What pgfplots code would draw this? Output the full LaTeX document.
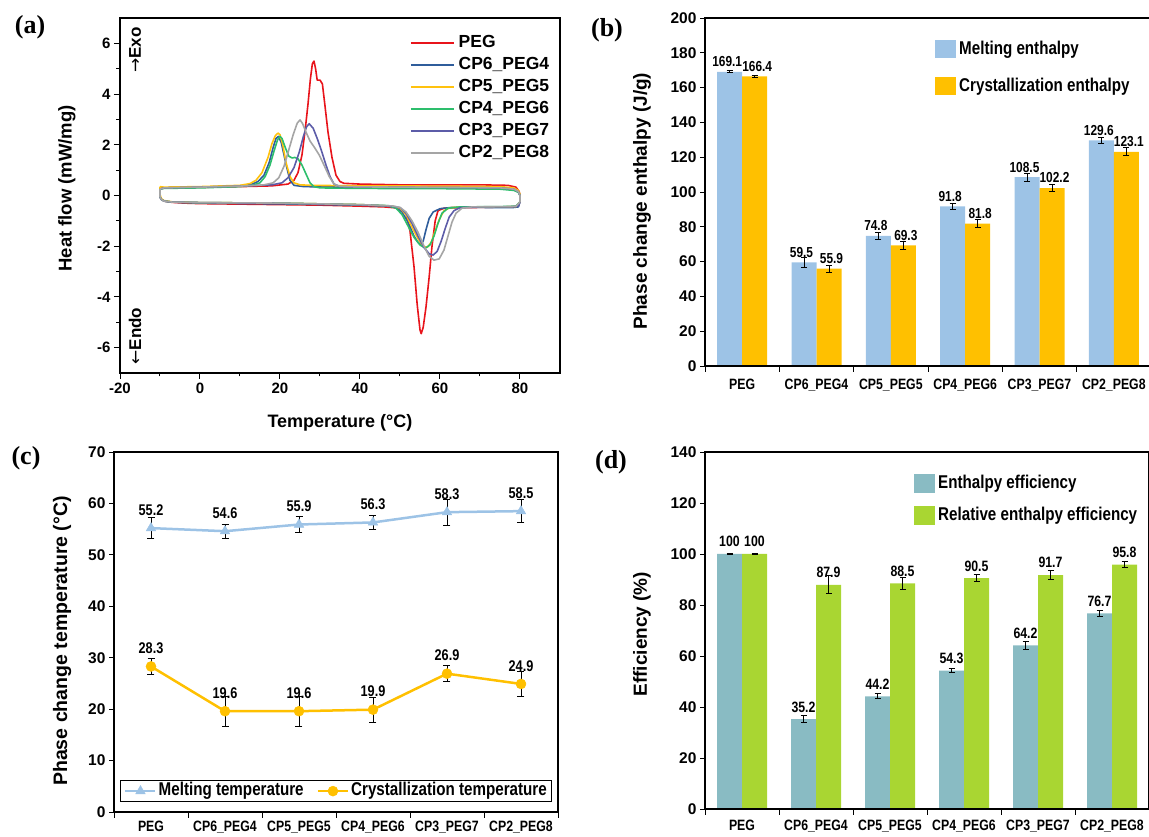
\documentclass[border=0pt]{standalone}
\usepackage{pgfplots}
\pgfplotsset{compat=1.18}
\usepackage{pgfplotstable}
\usepackage{fontspec}
\setmainfont{Liberation Sans}
\newfontfamily\narrowfont{Liberation Sans}[FakeStretch=0.82]
\newfontfamily\panelfont{Liberation Serif}
\newfontfamily\arrowfont{DejaVu Sans}
\newcommand{\fs}[1]{\fontsize{#1}{#1}\selectfont}

\definecolor{cPEG}{HTML}{E8141B}
\definecolor{cCPsix}{HTML}{2F5D9B}
\definecolor{cCPfive}{HTML}{FFC20E}
\definecolor{cCPfour}{HTML}{2DBE6C}
\definecolor{cCPthree}{HTML}{5C5CA8}
\definecolor{cCPtwo}{HTML}{A5A5A5}
\definecolor{barblue}{HTML}{9DC3E6}
\definecolor{barorange}{HTML}{FFC000}
\definecolor{barteal}{HTML}{89BBC3}
\definecolor{bargreen}{HTML}{A9D632}

\pgfplotstableread{
x melt meltErr cryst crystErr
0 169.1 0.5 166.4 0.6
1 59.5 2.8 55.9 2.0
2 74.8 2.1 69.3 2.3
3 91.8 1.8 81.8 2.2
4 108.5 2.2 102.2 2.0
5 129.6 1.9 123.1 2.3
}\enthalpy

\pgfplotstableread{
x Tm TmErr Tc TcErr
0 55.2 2.0 28.3 1.6
1 54.6 1.4 19.6 2.9
2 55.9 1.6 19.6 2.9
3 56.3 1.3 19.9 2.4
4 58.3 2.5 26.9 1.6
5 58.5 2.2 24.9 2.5
}\temps

\pgfplotstableread{
x eff effErr rel relErr
0 100 0.3 100 0.3
1 35.2 1.4 87.9 3.5
2 44.2 1.0 88.5 2.3
3 54.3 0.9 90.5 1.4
4 64.2 1.5 91.7 1.8
5 76.7 1.1 95.8 1.2
}\effic

\pgfplotsset{
  /pgf/number format/assume math mode=true,
  catstyle/.style={
    scale only axis, anchor=north west,
    xmin=-0.5, xmax=5.5,
    xtick={0,...,5},
    xticklabels={PEG,CP6\_PEG4,CP5\_PEG5,CP4\_PEG6,CP3\_PEG7,CP2\_PEG8},
    major x tick style={draw=none},
    minor xtick={-0.5,0.5,...,5.5},
    minor tick length=6pt,
    minor x tick style={black, line width=0.9pt},
    major tick length=5pt,
    tick align=outside, tick pos=left,
    y tick style={black, line width=0.9pt},
    x tick label style={font=\narrowfont\bfseries\fs{15}},
    y tick label style={font=\bfseries\fs{15.5}},
    axis line style={black, line width=1.2pt},
    error bars/y dir=both, error bars/y explicit,
    error bars/error bar style={black, line width=0.9pt},
    error bars/error mark options={rotate=90, black, mark size=3pt, line width=0.9pt},
  },
}

\begin{document}
\begin{tikzpicture}[x=1pt,y=1pt]
\useasboundingbox (0,0) rectangle (1149,836);

% ---------------- (a) ----------------
\begin{axis}[
  at={(120pt,818pt)}, anchor=north west,
  scale only axis, width=440pt, height=355pt,
  xmin=-20, xmax=90, ymin=-7, ymax=7,
  xtick={-20,0,...,80}, ytick={-6,-4,...,6},
  minor x tick num=1, minor y tick num=1,
  tick align=outside, tick pos=left,
  major tick length=6pt, minor tick length=3.5pt,
  tick style={black, line width=1pt},
  tick label style={font=\bfseries\fs{15}},
  axis line style={black, line width=1.3pt},
  xlabel={Temperature (°C)},
  xlabel style={font=\bfseries\fs{18}, at={(axis description cs:0.5,-0.141)}, anchor=center},
  ylabel={Heat flow (mW/mg)},
  ylabel style={font=\bfseries\fs{18.5}, at={(axis description cs:-0.1205,0.52)}, anchor=center},
  legend style={draw=none, fill=none, at={(axis description cs:0.652,0.962)}, anchor=north west,
    font=\bfseries\fs{17.5}, row sep=3.5pt, nodes={inner sep=1pt, text height=13pt, text depth=3.5pt},
    /tikz/every odd column/.append style={column sep=3pt}},
  legend cell align=left,
  legend image code/.code={\draw[#1] (0pt,0pt) -- (43pt,0pt);},
  every axis plot/.append style={line width=1.6pt, line join=round},
]
\addplot[cPEG] coordinates {
(-10,0.28) (-10,-0.05) (-9.7,-0.15) (-9,-0.22) (-7,-0.27) (-4,-0.3) (0,-0.32) (10,-0.34) (20,-0.36) (30,-0.38) (40,-0.42) (46,-0.45) (50,-0.5) (51.5,-0.7) (52.5,-1.4) (53.5,-2.8) (54.3,-4.3) (55,-5.3) (55.3,-5.45) (55.8,-5.2) (56.5,-4.4) (57.3,-3.2) (58,-2.0) (58.8,-1.0) (59.5,-0.6) (61,-0.5) (65,-0.48) (70,-0.47) (78,-0.45) (79.5,-0.42) (80,-0.25) (80,0.0) (79.8,0.15) (79,0.33) (77,0.4) (70,0.42) (50,0.42) (40,0.45) (36,0.48) (35,0.55) (34,0.8) (33,1.5) (32,2.5) (31.2,3.6) (30.6,4.4) (30,4.55) (29.3,4.55) (28.9,5.0) (28.5,5.3) (28.1,5.2) (27.6,4.6) (27,3.6) (26.3,2.6) (25.5,1.6) (24.5,0.9) (23.5,0.6) (22,0.45) (18,0.38) (10,0.35) (0,0.32) (-9,0.3) (-10,0.28)
};
\addlegendentry{PEG}
\addplot[cCPsix] coordinates {
(-10,0.25) (-10,-0.05) (-9.7,-0.15) (-9,-0.22) (-7,-0.26) (0,-0.3) (20,-0.33) (40,-0.38) (47,-0.42) (49,-0.48) (50.5,-0.65) (52,-1.05) (53.5,-1.6) (54.5,-1.85) (55.2,-1.93) (55.8,-1.8) (56.5,-1.35) (57.3,-0.9) (58.3,-0.65) (60,-0.52) (63,-0.47) (70,-0.47) (78,-0.48) (79.6,-0.45) (80,-0.25) (80,0.0) (79.7,0.12) (79,0.22) (77,0.28) (70,0.3) (50,0.32) (35,0.33) (26,0.35) (23.5,0.4) (22.5,0.6) (21.7,1.1) (21,1.6) (20.3,2.1) (19.6,2.33) (19,2.25) (18.3,1.9) (17.3,1.3) (16,0.8) (14.5,0.55) (13,0.45) (10,0.38) (0,0.33) (-9,0.3) (-10,0.25)
};
\addlegendentry{CP6\_PEG4}
\addplot[cCPfive] coordinates {
(-10,0.35) (-10,0.05) (-9.7,-0.12) (-9,-0.2) (-7,-0.25) (0,-0.28) (20,-0.3) (40,-0.36) (48,-0.42) (50,-0.5) (51.5,-0.75) (53,-1.25) (54.5,-1.7) (55.8,-2.0) (56.8,-2.05) (57.8,-1.85) (58.8,-1.4) (59.8,-0.95) (61,-0.6) (62.5,-0.48) (66,-0.45) (75,-0.45) (79,-0.44) (80,-0.25) (80,0.05) (79.6,0.2) (78.5,0.3) (75,0.35) (60,0.37) (40,0.38) (28,0.4) (25,0.42) (23.5,0.5) (22.5,0.75) (21.5,1.3) (20.7,2.0) (20,2.4) (19.5,2.46) (18.8,2.35) (18,2.05) (17,1.5) (15.5,0.9) (14,0.6) (12.5,0.47) (10,0.4) (0,0.35) (-9,0.33) (-10,0.35)
};
\addlegendentry{CP5\_PEG5}
\addplot[cCPfour] coordinates {
(-10,0.25) (-10,-0.05) (-9.7,-0.15) (-9,-0.22) (-7,-0.26) (0,-0.28) (20,-0.3) (40,-0.36) (47,-0.4) (49,-0.5) (50.5,-0.75) (52,-1.2) (53.5,-1.65) (55,-1.95) (56.3,-2.08) (57.5,-1.95) (58.5,-1.6) (59.5,-1.1) (60.5,-0.7) (62,-0.5) (65,-0.45) (75,-0.44) (79,-0.42) (80,-0.25) (80,0.0) (79.6,0.12) (78.5,0.2) (75,0.25) (60,0.27) (40,0.28) (30,0.3) (28.5,0.35) (27.5,0.5) (26.5,0.85) (25.5,1.2) (24.5,1.45) (23.7,1.5) (23,1.48) (22.2,1.55) (21.3,1.9) (20.5,2.25) (20,2.33) (19.4,2.2) (18.5,1.75) (17.5,1.2) (16.3,0.75) (15,0.5) (13,0.4) (10,0.35) (0,0.3) (-9,0.28) (-10,0.25)
};
\addlegendentry{CP4\_PEG6}
\addplot[cCPthree] coordinates {
(-10,0.25) (-10,-0.05) (-9.7,-0.15) (-9,-0.22) (-7,-0.26) (0,-0.28) (20,-0.31) (40,-0.37) (48,-0.42) (50,-0.48) (51.5,-0.7) (53,-1.1) (54.5,-1.6) (56,-2.05) (57.3,-2.3) (58.3,-2.35) (59.3,-2.2) (60.3,-1.8) (61.3,-1.3) (62.3,-0.85) (63.5,-0.6) (65,-0.48) (70,-0.45) (78,-0.45) (79.6,-0.42) (80,-0.25) (80,0.0) (79.6,0.15) (78.5,0.25) (75,0.3) (60,0.32) (40,0.33) (35,0.35) (33.5,0.45) (32.5,0.75) (31.5,1.2) (30.3,1.8) (29.3,2.25) (28.3,2.65) (27.3,2.83) (26.6,2.7) (25.8,2.3) (24.8,1.7) (23.5,1.1) (22,0.7) (20.5,0.5) (18,0.42) (10,0.37) (0,0.33) (-9,0.3) (-10,0.25)
};
\addlegendentry{CP3\_PEG7}
\addplot[cCPtwo] coordinates {
(-10,0.25) (-10,-0.05) (-9.7,-0.15) (-9,-0.22) (-7,-0.26) (0,-0.28) (20,-0.3) (40,-0.36) (48,-0.41) (50,-0.47) (51.5,-0.65) (53,-1.0) (54.5,-1.45) (56,-2.0) (57.3,-2.4) (58.5,-2.55) (59.8,-2.5) (61,-2.15) (62,-1.6) (63,-1.05) (64,-0.7) (65.5,-0.5) (68,-0.45) (75,-0.44) (79,-0.43) (80,-0.25) (80,0.0) (79.6,0.15) (78.5,0.25) (75,0.3) (60,0.32) (40,0.34) (35,0.36) (33.5,0.45) (32.3,0.75) (31,1.2) (29.8,1.6) (28.6,1.9) (27.5,2.15) (26.5,2.5) (25.6,2.85) (25,2.98) (24.3,2.85) (23.3,2.4) (22.2,1.8) (21,1.15) (19.7,0.7) (18.3,0.5) (16,0.42) (10,0.37) (0,0.33) (-9,0.3) (-10,0.25)
};
\addlegendentry{CP2\_PEG8}
\end{axis}

% ---------------- (b) ----------------
\begin{axis}[
  catstyle, axis on top,
  at={(705pt,818pt)}, width=446pt, height=348pt,
  ymin=0, ymax=200, ytick={0,20,...,200},
  ybar, bar width=25pt,
  x tick label style={yshift=-4.5pt},
  ylabel={Phase change enthalpy (J/g)},
  ylabel style={font=\bfseries\fs{19}, at={(axis description cs:-0.141,0.474)}, anchor=center},
  nodes near coords,
  every node near coord/.append style={font=\narrowfont\bfseries\fs{14.5}, black, yshift=1.5pt},
  legend style={draw=none, fill=none, at={(axis description cs:0.509,0.945)}, anchor=north west,
    font=\narrowfont\bfseries\fs{18.5}, row sep=17pt, nodes={inner sep=1pt, text height=14pt, text depth=4pt},
    /tikz/every odd column/.append style={column sep=2pt}},
  legend cell align=left,
  legend image code/.code={\fill[#1] (0pt,-9pt) rectangle (21pt,9pt);},
]
\addplot[fill=barblue, draw=none, bar shift=-12.5pt,
  every node near coord/.append style={xshift=-2.5pt}] table[x=x, y=melt, y error=meltErr] {\enthalpy};
\addlegendentry{Melting enthalpy}
\addplot[fill=barorange, draw=none, bar shift=12.5pt,
  every node near coord/.append style={xshift=2.5pt}] table[x=x, y=cryst, y error=crystErr] {\enthalpy};
\addlegendentry{Crystallization enthalpy}
\end{axis}

% ---------------- (c) ----------------
\begin{axis}[
  catstyle,
  at={(114pt,384pt)}, width=444pt, height=360pt,
  ymin=0, ymax=70, ytick={0,10,...,70},
  x tick label style={yshift=-0.5pt},
  ylabel={Phase change temperature (°C)},
  ylabel style={font=\bfseries\fs{19.5}, at={(axis description cs:-0.117,0.475)}, anchor=center},
  nodes near coords,
  every node near coord/.append style={font=\narrowfont\bfseries\fs{15.5}, black, yshift=9pt},
  error bars/error mark options={rotate=90, black, mark size=3.5pt, line width=0.8pt},
  error bars/error bar style={black, line width=0.8pt},
  legend columns=2,
  legend style={at={(axis description cs:0.5,0.028)}, anchor=south, draw=black, line width=0.6pt, fill=white,
    font=\narrowfont\bfseries\fs{18.5}, inner xsep=4pt, inner ysep=1pt,
    nodes={inner sep=1pt, text height=13pt, text depth=4pt},
    /tikz/every even column/.append style={column sep=12pt},
    /tikz/every odd column/.append style={column sep=1pt}},
  legend image code/.code={\draw[mark repeat=2, mark phase=2, #1] plot coordinates {(0pt,0pt) (15pt,0pt) (30pt,0pt)};},
]
\addplot[color=barblue, line width=2.5pt, mark=triangle*, mark size=5.5pt,
  mark options={solid, fill=barblue, draw=barblue, line width=0.5pt}]
  table[x=x, y=Tm, y error=TmErr] {\temps};
\addlegendentry{Melting temperature}
\addplot[color=barorange, line width=2.5pt, mark=*, mark size=5pt,
  mark options={solid, fill=barorange, draw=barorange, line width=0.5pt}]
  table[x=x, y=Tc, y error=TcErr] {\temps};
\addlegendentry{Crystallization temperature}
\end{axis}

% ---------------- (d) ----------------
\begin{axis}[
  catstyle, axis on top,
  at={(705pt,384pt)}, width=444pt, height=357pt,
  ymin=0, ymax=140, ytick={0,20,...,140},
  ybar, bar width=25pt,
  x tick label style={yshift=-2.5pt},
  ylabel={Efficiency (\%)},
  ylabel style={font=\bfseries\fs{19}, at={(axis description cs:-0.142,0.49)}, anchor=center},
  nodes near coords,
  every node near coord/.append style={font=\narrowfont\bfseries\fs{15}, black, yshift=3.5pt},
  legend style={draw=none, fill=none, at={(axis description cs:0.464,0.945)}, anchor=north west,
    font=\narrowfont\bfseries\fs{18.5}, row sep=12pt, nodes={inner sep=1pt, text height=14pt, text depth=4pt},
    /tikz/every odd column/.append style={column sep=2pt}},
  legend cell align=left,
  legend image code/.code={\fill[#1] (0pt,-9.5pt) rectangle (21pt,9.5pt);},
]
\addplot[fill=barteal, draw=none, bar shift=-12.5pt] table[x=x, y=eff, y error=effErr] {\effic};
\addlegendentry{Enthalpy efficiency}
\addplot[fill=bargreen, draw=none, bar shift=12.5pt] table[x=x, y=rel, y error=relErr] {\effic};
\addlegendentry{Relative enthalpy efficiency}
\end{axis}

% panel labels and annotations
\node[font=\panelfont\bfseries\fs{26}] at (30,809) {(a)};
\node[font=\panelfont\bfseries\fs{26}] at (607,806) {(b)};
\node[font=\panelfont\bfseries\fs{26}] at (26,378) {(c)};
\node[font=\panelfont\bfseries\fs{26}] at (611,374) {(d)};
\node[rotate=90, font=\bfseries\fs{17}] at (135,786) {{\arrowfont\mdseries →}Exo};
\node[rotate=90, font=\bfseries\fs{17}] at (135,500) {{\arrowfont\mdseries ←}Endo};
\end{tikzpicture}
\end{document}
